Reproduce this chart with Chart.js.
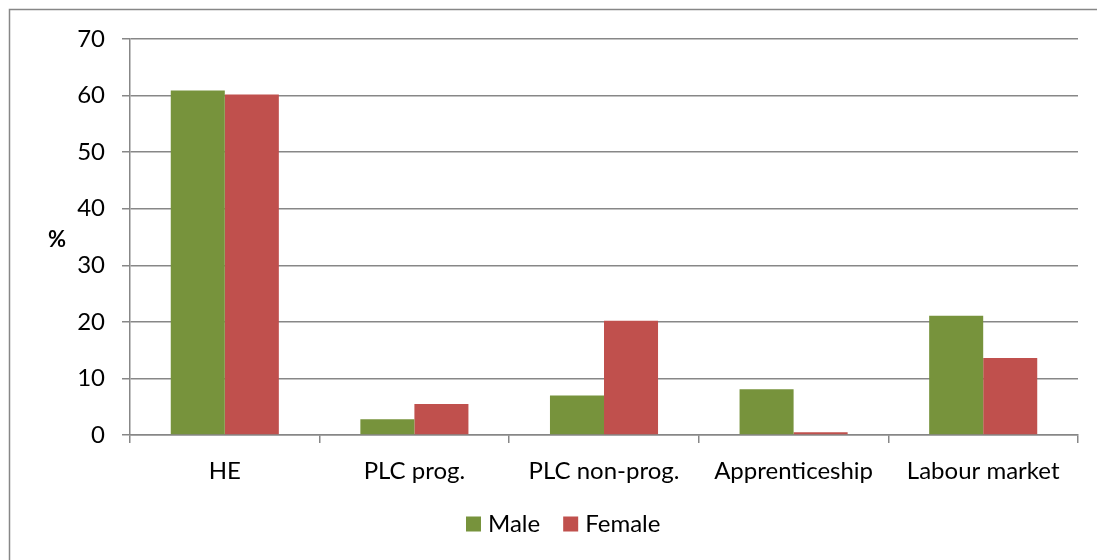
<!DOCTYPE html>
<html>
<head>
<meta charset="utf-8">
<script src="https://cdn.jsdelivr.net/npm/chart.js@4"></script>
<style>
  html, body { margin: 0; padding: 0; background: #fff; }
  #wrap { width: 1097px; height: 560px; position: relative; }
</style>
</head>
<body>
<div id="wrap"><canvas id="chart"></canvas></div>
<script>
// ── DATOS ──
const categorias = ["HE", "PLC prog.", "PLC non-prog.", "Apprenticeship", "Labour market"];
const serieMale = [60.9, 2.8, 7.0, 8.1, 21.1];
const serieFemale = [60.2, 5.5, 20.2, 0.5, 13.6];
const yMax = 70;
const yPaso = 10;

const FONT = "Lato, 'Open Sans', sans-serif";
const GRIS = "#878787";
const VERDE = "#77933C";
const ROJO = "#C0504D";

Chart.defaults.font.family = FONT;
Chart.defaults.color = "#000";

// marco exterior, etiqueta "%" horizontal y leyenda abajo
const marcoPlugin = {
    id: "marco",
    beforeDraw(chart) {
        const ctx = chart.ctx;
        ctx.save();
        ctx.strokeStyle = GRIS;
        ctx.lineWidth = 1.5;
        ctx.strokeRect(9.5, 9.5, 2000, 2000);
        ctx.restore();
    },
    afterDraw(chart) {
        const ctx = chart.ctx;
        const a = chart.chartArea;
        ctx.save();
        ctx.font = "bold 22px " + FONT;
        ctx.fillStyle = "#000";
        ctx.textAlign = "center";
        ctx.textBaseline = "middle";
        ctx.fillText("%", 57, (a.top + a.bottom) / 2 + 3);

        // leyenda
        ctx.font = "24px " + FONT;
        ctx.textAlign = "left";
        let x = 466;
        const yc = 524;
        chart.data.datasets.forEach(ds => {
            ctx.fillStyle = ds.backgroundColor;
            ctx.fillRect(x, yc - 7.5, 15, 15);
            ctx.fillStyle = "#000";
            ctx.fillText(ds.label, x + 22, yc);
            x += 22 + ctx.measureText(ds.label).width + 23;
        });
        ctx.restore();
    }
};

new Chart(document.getElementById("chart"), {
    type: "bar",
    data: {
        labels: categorias,
        datasets: [
            { label: "Male", data: serieMale, backgroundColor: VERDE },
            { label: "Female", data: serieFemale, backgroundColor: ROJO }
        ]
    },
    options: {
        responsive: true,
        maintainAspectRatio: false,
        animation: false,
        layout: { padding: { top: 39, right: 19, left: 0, bottom: 66 } },
        datasets: { bar: { categoryPercentage: 0.57, barPercentage: 1.0 } },
        plugins: {
            tooltip: { enabled: false },
            legend: { display: false }
        },
        scales: {
            x: {
                grid: { drawOnChartArea: false, drawTicks: true, tickLength: 8, color: GRIS, lineWidth: 1.5 },
                border: { color: GRIS, width: 1.5 },
                ticks: { font: { size: 24 }, padding: 14, maxRotation: 0, autoSkip: false },
                afterFit(s) { s.height = 59; }
            },
            y: {
                min: 0, max: yMax,
                grid: { color: GRIS, lineWidth: 1.5, tickLength: 8 },
                border: { color: GRIS, width: 1.5 },
                ticks: { stepSize: yPaso, font: { size: 24 }, padding: 17 },
                afterFit(s) { s.width = 130; }
            }
        }
    },
    plugins: [marcoPlugin]
});
</script>
</body>
</html>
